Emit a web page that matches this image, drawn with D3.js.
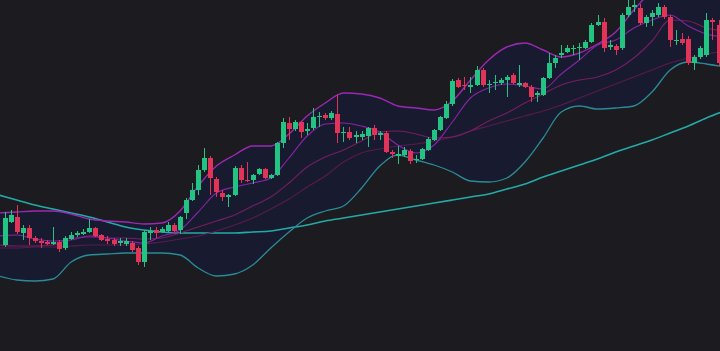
<!DOCTYPE html>
<html><head><meta charset="utf-8">
<script src="https://cdn.jsdelivr.net/npm/d3@7"></script>
<style>html,body{margin:0;padding:0;background:#1c1c20;overflow:hidden}svg{display:block}</style>
</head><body><svg id="c" width="720" height="351"></svg>
<script>
// ---- candle data (price units) ----
const opens = [155,178,183,167,172,162,159,158,156,158, 152,161,165,166,168,172,165,161,160,157,
  156,157,152,138,167,170,168,169,175,170, 187,200,210,230,242,221,207,203,205,232,
  220,220,226,231,222,225,257,277,271,278, 269,272,283,285,282,286,267,268,263,263,
  264,272,265,267,248,244,245,249,240,241, 250,260,270,282,296,320,315,313,315,330,
  315,317,317,320,325,315,317,313,305,305, 322,337,345,348,351,352,352,358,375,378,
  353,354,352,385,393,392,377,383,385,393, 383,359,361,361,337,343,345,380,375];
const closes = [182,185,168,172,162,159,157,156,158,151, 162,165,167,168,172,164,160,159,156,159,
  159,150,138,168,169,167,171,175,169,183, 200,210,230,242,222,208,203,205,232,220,
  219,225,231,222,225,257,278,271,278,268, 271,283,284,282,287,267,268,262,265,266,
  272,265,267,248,246,246,250,239,241,251, 261,270,283,296,319,313,314,315,330,315,
  316,318,320,323,317,317,313,303,307,322, 337,342,347,352,352,353,358,375,378,352,
  355,350,385,393,395,377,383,387,393,383, 360,360,357,337,343,352,380,378,337];
const highs = [188,190,195,175,175,164,162,160,173,160, 164,168,169,171,181,173,166,164,162,162,
  162,159,154,170,173,173,173,178,177,184, 202,217,235,252,244,223,210,206,234,235,
  238,226,232,232,226,258,282,283,280,279, 277,292,288,287,289,305,273,273,269,269,
  273,275,269,269,250,254,253,251,245,252, 263,271,284,299,321,322,323,323,334,332,
  320,325,322,325,327,335,318,315,309,323, 347,345,355,355,355,357,360,377,385,382,
  360,356,387,400,402,396,385,390,397,395, 385,370,367,364,345,354,387,382,380];
const lows = [153,177,166,160,155,157,152,155,155,148, 150,160,163,165,167,163,159,156,154,154,
  154,148,135,133,160,162,167,168,167,166, 181,199,205,228,205,203,199,193,204,217,
  218,216,225,221,221,224,252,260,269,262, 265,270,273,280,280,257,258,260,257,260,
  253,260,260,247,242,236,243,236,237,240, 249,259,269,281,294,312,310,307,314,313,
  307,310,315,303,316,313,312,298,298,304, 321,332,342,347,345,340,351,357,374,348,
  350,345,350,383,388,375,373,374,383,381, 353,355,355,335,330,341,343,360,334];

// ---- indicator lines, read every 3rd bar starting one bar before the first visible ----
const lineIndex = d3.range(-1, 120, 3);
const upperBand = [187,188,189,189,186,181,179,178,176,177, 189,214,234,245,254,254,266,284,297,307,
  306,302,294,292,290,299,320,340,353,357, 350,343,347,356,368,390,410,430,420,408, 405];
const lowerBand = [124,120,119,121,138,145,146,147,147,147, 145,132,124,126,135,152,168,182,189,194,
  212,234,245,240,235,228,219,218,222,238, 262,288,294,291,292,294,308,330,338,336, 333];
const fastMA = [164,165,161,159,160,164,162,159,157,164, 170,188,207,213,217,222,242,264,276,277,
  274,268,255,247,255,278,302,312,316,314, 311,326,340,355,360,372,380,385,374,366, 363];
const basis = [155,154,154,155,162,163,162,162,161,162, 167,173,179,185,194,203,217,233,243,250,
  259,268,269,266,262,263,269,279,287,297, 306,315,320,323,330,342,359,380,379,372, 369];
const slowMA = [152,152,153,153,154,155,155,155,156,158, 161,164,169,175,182,191,201,213,224,238,
  247,251,254,256,259,263,269,274,279,284, 289,295,302,309,316,323,330,337,342,346, 349];
const ma200 = [205,200,195,191,187,183,178,173,170,168, 167,167,167,167,168,169,172,175,179,182,
  185,188,191,194,197,200,203,206,211,216, 223,229,235,241,248,254,260,267,274,282, 289];

const W = 720, H = 351;
const svg = d3.select('#c');
const x = d3.scaleLinear().domain([-0.76, 118.24]).range([0, W]);
const y = d3.scaleLinear().domain([49, 400]).range([H, 0]);

svg.append('rect').attr('width', W).attr('height', H).attr('fill', '#1c1c20');

const pts = arr => lineIndex.map((k, i) => [k, arr[i]]);
const area = d3.area().x(d => x(d[0])).y0(d => y(d[2])).y1(d => y(d[1])).curve(d3.curveMonotoneX);
svg.append('path')
  .datum(lineIndex.map((k, i) => [k, upperBand[i], lowerBand[i]]))
  .attr('d', area).attr('fill', '#181b2f');

const line = d3.line().x(d => x(d[0])).y(d => y(d[1])).curve(d3.curveMonotoneX);
const lines = [
  {data: ma200, color: '#23aaa8', w: 1.6},
  {data: lowerBand, color: '#2a8b96', w: 1.3},
  {data: slowMA, color: '#5a1a4e', w: 1.1},
  {data: basis, color: '#761d63', w: 1.1},
  {data: fastMA, color: '#8724a6', w: 1.1},
  {data: upperBand, color: '#9b28b3', w: 1.4}
];
lines.forEach(l => svg.append('path').datum(pts(l.data)).attr('d', line)
  .attr('fill', 'none').attr('stroke', l.color).attr('stroke-width', l.w));

const up = '#22c383', down = '#e23358';
const g = svg.append('g');
const idx = d3.range(opens.length);
g.selectAll('line.w').data(idx).join('line')
  .attr('x1', i => Math.round(x(i)) + 0.5).attr('x2', i => Math.round(x(i)) + 0.5)
  .attr('y1', i => y(highs[i])).attr('y2', i => y(lows[i]))
  .attr('stroke', i => closes[i] >= opens[i] ? up : down).attr('stroke-width', 1);
const bw = 5;
g.selectAll('rect.b').data(idx).join('rect')
  .attr('x', i => Math.round(x(i)) + 0.5 - bw / 2)
  .attr('width', bw)
  .attr('y', i => y(Math.max(opens[i], closes[i])))
  .attr('height', i => Math.max(1, Math.abs(y(opens[i]) - y(closes[i]))))
  .attr('fill', i => closes[i] >= opens[i] ? up : down);
</script></body></html>
